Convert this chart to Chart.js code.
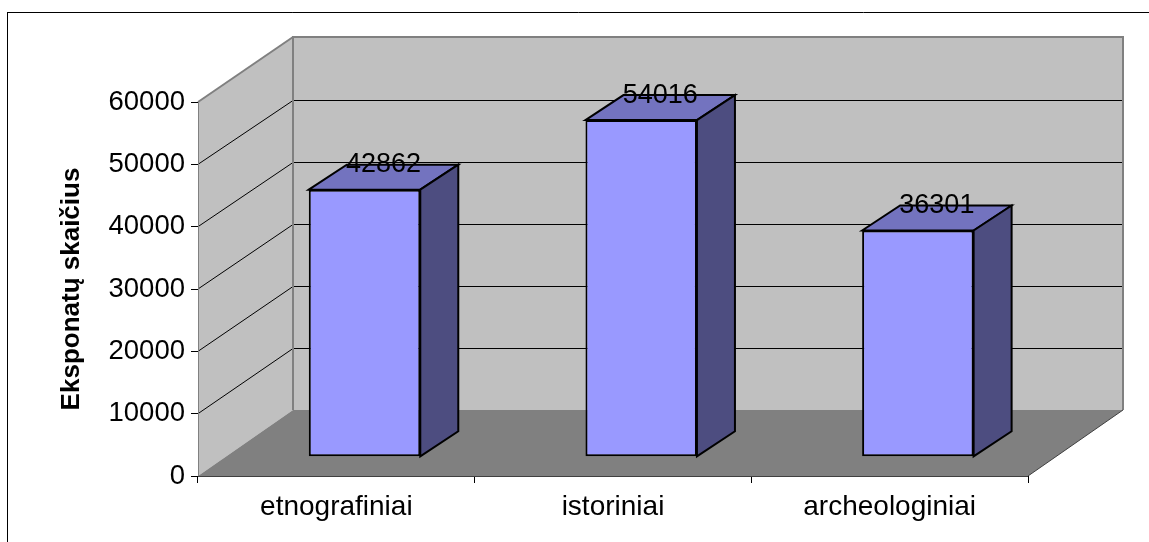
<!DOCTYPE html>
<html>
<head>
<meta charset="utf-8">
<style>html,body{margin:0;padding:0;background:#fff}canvas{display:block}</style>
<script src="https://cdn.jsdelivr.net/npm/chart.js@4"></script>
</head>
<body>
<div style="width:1149px;height:542px;position:relative"><canvas id="c" width="1149" height="542"></canvas></div>
<script>
const categories = ["etnografiniai", "istoriniai", "archeologiniai"];
const exhibits = [42862, 54016, 36301];
const yTicks = [0, 10000, 20000, 30000, 40000, 50000, 60000];
const yTitle = "Eksponatų skaičius";

const FONT = '"Liberation Sans", Arial, sans-serif';
const WALL = {dx: 95, dy: -66, gridTopDy: -64, edgeTopDy: -65};
const BAR_SHIFT = {dx: 28.2, dy: -19.2};
const BAR_DEPTH = {dx: 38, dy: -25};
const LABEL = {dx: 19, dy: -25};

function poly(ctx, pts, fill, stroke, lw) {
  ctx.beginPath();
  pts.forEach((p, i) => i ? ctx.lineTo(p[0], p[1]) : ctx.moveTo(p[0], p[1]));
  ctx.closePath();
  if (fill) { ctx.fillStyle = fill; ctx.fill(); }
  if (stroke) { ctx.strokeStyle = stroke; ctx.lineWidth = lw; ctx.lineJoin = 'miter'; ctx.stroke(); }
}
function line(ctx, a, b, color, lw) {
  ctx.beginPath(); ctx.moveTo(a[0], a[1]); ctx.lineTo(b[0], b[1]);
  ctx.strokeStyle = color; ctx.lineWidth = lw; ctx.stroke();
}

const scene = {
  id: 'scene',
  beforeDraw(chart) {
    const ctx = chart.ctx;
    ctx.save();
    ctx.fillStyle = '#fff'; ctx.fillRect(0, 0, chart.width, chart.height);
    line(ctx, [7.5, 12.5], [chart.width, 12.5], '#000', 1);
    line(ctx, [7.5, 12], [7.5, chart.height], '#000', 1);
    ctx.restore();
  },
  beforeDatasetsDraw(chart) {
    const ctx = chart.ctx, {x, y} = chart.scales;
    const L = x.left, R = x.right, B = y.bottom, T = y.top;
    const d = WALL, top = T + d.edgeTopDy, floor = B + d.dy;
    const gridTop = T + d.gridTopDy;
    const maxV = yTicks[yTicks.length - 1];
    ctx.save();
    poly(ctx, [[L + d.dx, top], [R + d.dx, top], [R + d.dx, floor], [L + d.dx, floor]], '#C0C0C0');
    poly(ctx, [[L, T], [L + d.dx, top], [L + d.dx, floor], [L, B]], '#C0C0C0');
    poly(ctx, [[L, B], [L + d.dx, floor], [R + d.dx, floor], [R, B]], '#808080');
    yTicks.forEach(v => {
      if (v === 0 || v === maxV) return;
      const p = y.getPixelForValue(v);
      const q = Math.round(floor - (floor - gridTop) * v / maxV) + .5;
      line(ctx, [L, p], [L + d.dx, q], '#000', 1);
      line(ctx, [L + d.dx, q], [R + d.dx, q], '#000', 1);
    });
    line(ctx, [L, T], [L + d.dx, top], '#808080', 2);
    line(ctx, [L + d.dx - 1, top], [R + d.dx, top], '#808080', 2);
    line(ctx, [L + d.dx, top], [L + d.dx, floor], '#808080', 2);
    line(ctx, [R + d.dx, top - 1], [R + d.dx, floor], '#808080', 2);
    line(ctx, [L + .5, T], [L + .5, B], '#808080', 1);
    line(ctx, [R, B], [R + d.dx, floor], '#404040', 1);
    line(ctx, [L, B + .5], [R, B + .5], '#404040', 1);
    ctx.restore();
    ctx.save();
    ctx.translate(BAR_SHIFT.dx, BAR_SHIFT.dy);
  },
  afterDatasetsDraw(chart) {
    const ctx = chart.ctx;
    const bars = chart.getDatasetMeta(0).data;
    const D = BAR_DEPTH;
    bars.forEach(b => {
      const l = b.x - b.width / 2, r = b.x + b.width / 2, t = b.y, bt = b.base;
      poly(ctx, [[l, t], [l + D.dx, t + D.dy], [r + D.dx, t + D.dy], [r, t]], '#7373BF', '#000', 2);
      poly(ctx, [[r, t], [r + D.dx, t + D.dy], [r + D.dx, bt + D.dy], [r, bt]], '#4D4D80', '#000', 2);
    });
    ctx.restore();
    ctx.save();
    ctx.font = '27px ' + FONT;
    ctx.fillStyle = '#000';
    ctx.textAlign = 'center';
    ctx.textBaseline = 'middle';
    bars.forEach((b, i) => {
      ctx.fillText(String(exhibits[i]), b.x + BAR_SHIFT.dx + LABEL.dx, b.y + BAR_SHIFT.dy + LABEL.dy);
    });
    ctx.restore();
  }
};

new Chart(document.getElementById('c'), {
  type: 'bar',
  data: {
    labels: categories,
    datasets: [{
      data: exhibits,
      backgroundColor: '#9999FF',
      borderColor: '#000',
      borderWidth: 2,
      borderSkipped: false,
      barPercentage: 0.403,
      categoryPercentage: 1
    }]
  },
  plugins: [scene],
  options: {
    responsive: false,
    animation: false,
    layout: {autoPadding: false, padding: {left: 0, top: 102, right: 121, bottom: 0}},
    plugins: {legend: {display: false}, tooltip: {enabled: false}, title: {display: false}},
    scales: {
      x: {
        afterFit(s) { s.height = 66; },
        grid: {drawOnChartArea: false, drawTicks: true, tickLength: 7, tickColor: '#000', tickWidth: 1},
        border: {display: false},
        ticks: {color: '#000', font: {family: FONT, size: 28}, padding: 7, maxRotation: 0}
      },
      y: {
        min: 0, max: 60000,
        afterBuildTicks(s) { s.ticks = yTicks.map(v => ({value: v})); },
        afterFit(s) { s.width = 198; },
        grid: {drawOnChartArea: false, drawTicks: true, tickLength: 7, tickColor: '#000', tickWidth: 1},
        border: {display: false},
        ticks: {color: '#000', font: {family: FONT, size: 27.5}, padding: 6, callback: v => String(v)},
        title: {display: true, text: yTitle, color: '#000', font: {family: FONT, size: 26, weight: 'bold'}, padding: {top: 56, bottom: 0}}
      }
    }
  }
});
</script>
</body>
</html>
